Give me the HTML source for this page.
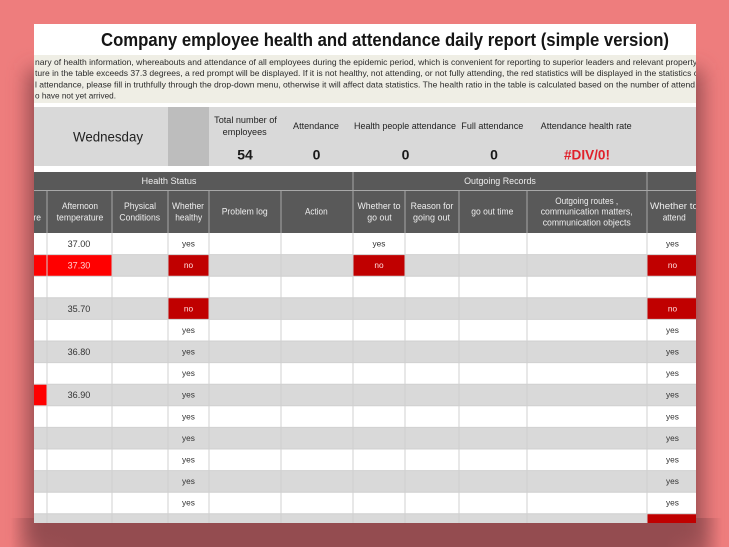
<!DOCTYPE html>
<html><head><meta charset="utf-8"><style>
html,body{margin:0;padding:0;background:#ee7d7d;width:729px;height:547px;overflow:hidden;}
svg{display:block;}
text{font-family:"Liberation Sans",Arial,sans-serif;}
</style></head><body>
<svg width="729" height="547" viewBox="0 0 729 547" xmlns="http://www.w3.org/2000/svg">
<defs>
<filter id="bl" x="-10%" y="-10%" width="120%" height="120%"><feGaussianBlur stdDeviation="10"/></filter>
<clipPath id="sc"><rect x="34" y="24" width="662" height="499"/></clipPath>
<clipPath id="vp"><rect x="0" y="0" width="729" height="547"/></clipPath>
<linearGradient id="bg" x1="0" y1="0" x2="1" y2="0">
<stop offset="0" stop-color="#944c50" stop-opacity="0"/>
<stop offset="0.05" stop-color="#944c50" stop-opacity="0.85"/>
<stop offset="0.1" stop-color="#944c50" stop-opacity="1"/>
<stop offset="0.92" stop-color="#944c50" stop-opacity="1"/>
<stop offset="0.97" stop-color="#944c50" stop-opacity="0.6"/>
<stop offset="1" stop-color="#944c50" stop-opacity="0"/>
</linearGradient>
</defs>
<rect width="729" height="547" fill="#ee7d7d"/>
<g clip-path="url(#vp)">
<rect x="28" y="70" width="674" height="477" fill="#944c50" filter="url(#bl)"/>
<rect x="10" y="518" width="712" height="29" fill="url(#bg)"/>
</g>
<g clip-path="url(#sc)">
<rect x="34" y="24" width="662" height="499" fill="#ffffff"/>
<text x="101" y="46.2" font-size="18" font-weight="bold" fill="#151515" textLength="568" lengthAdjust="spacingAndGlyphs">Company employee health and attendance daily report (simple version)</text>
<rect x="34" y="55" width="662" height="48" fill="#efeee5"/>
<g font-size="8.3" fill="#2a2a2a">
<text x="35" y="65" textLength="662" lengthAdjust="spacingAndGlyphs">nary of health information, whereabouts and attendance of all employees during the epidemic period, which is convenient for reporting to superior leaders and relevant property</text>
<text x="35" y="76" textLength="663" lengthAdjust="spacingAndGlyphs">ture in the table exceeds 37.3 degrees, a red prompt will be displayed. If it is not healthy, not attending, or not fully attending, the red statistics will be displayed in the statistics c</text>
<text x="35" y="87.3" textLength="660" lengthAdjust="spacingAndGlyphs">l attendance, please fill in truthfully through the drop-down menu, otherwise it will affect data statistics. The health ratio in the table is calculated based on the number of attend</text>
<text x="35" y="98.5" textLength="81" lengthAdjust="spacingAndGlyphs">o have not yet arrived.</text>
</g>
<rect x="34" y="107" width="662" height="59" fill="#d9d9d9"/>
<rect x="168" y="107" width="41" height="59" fill="#bdbdbd"/>
<text x="108" y="141.5" font-size="13.5" fill="#222" text-anchor="middle" textLength="70" lengthAdjust="spacingAndGlyphs">Wednesday</text>
<g font-size="9" fill="#222" text-anchor="middle">
<text x="245.5" y="123" textLength="62.7" lengthAdjust="spacingAndGlyphs">Total number of</text>
<text x="244.7" y="135" textLength="44" lengthAdjust="spacingAndGlyphs">employees</text>
<text x="316" y="129" textLength="46" lengthAdjust="spacingAndGlyphs">Attendance</text>
<text x="405" y="129" textLength="102" lengthAdjust="spacingAndGlyphs">Health people attendance</text>
<text x="492.3" y="129" textLength="62" lengthAdjust="spacingAndGlyphs">Full attendance</text>
<text x="586.2" y="129" textLength="91" lengthAdjust="spacingAndGlyphs">Attendance health rate</text>
</g>
<g font-size="14" font-weight="bold" fill="#1a1a1a" text-anchor="middle">
<text x="245" y="159.5">54</text>
<text x="316.5" y="159.5">0</text>
<text x="405.5" y="159.5">0</text>
<text x="494" y="159.5">0</text>
<text x="587" y="159.5" fill="#e0202a" textLength="46" lengthAdjust="spacingAndGlyphs">#DIV/0!</text>
</g>
<rect x="34" y="172" width="662" height="61" fill="#595959"/>
<g stroke="#a8a8a8" stroke-width="1">
<line x1="34" y1="190.5" x2="696" y2="190.5"/>
<line x1="353" y1="172" x2="353" y2="233"/>
<line x1="647" y1="172" x2="647" y2="233"/>
<line x1="47" y1="190" x2="47" y2="233"/>
<line x1="112" y1="190" x2="112" y2="233"/>
<line x1="168" y1="190" x2="168" y2="233"/>
<line x1="209" y1="190" x2="209" y2="233"/>
<line x1="281" y1="190" x2="281" y2="233"/>
<line x1="405" y1="190" x2="405" y2="233"/>
<line x1="459" y1="190" x2="459" y2="233"/>
<line x1="527" y1="190" x2="527" y2="233"/>
</g>
<g font-size="9" fill="#eeeeee" text-anchor="middle">
<text x="169" y="184" textLength="55" lengthAdjust="spacingAndGlyphs">Health Status</text>
<text x="500" y="184" textLength="71.7" lengthAdjust="spacingAndGlyphs">Outgoing Records</text>
<text x="18" y="220.5" textLength="46" lengthAdjust="spacingAndGlyphs">temperature</text>
<text x="80" y="209" textLength="36" lengthAdjust="spacingAndGlyphs">Afternoon</text>
<text x="80" y="220.5" textLength="46.7" lengthAdjust="spacingAndGlyphs">temperature</text>
<text x="140" y="209" textLength="32" lengthAdjust="spacingAndGlyphs">Physical</text>
<text x="139.7" y="220.5" textLength="40.7" lengthAdjust="spacingAndGlyphs">Conditions</text>
<text x="188" y="209" textLength="32" lengthAdjust="spacingAndGlyphs">Whether</text>
<text x="188.7" y="220.5" textLength="27" lengthAdjust="spacingAndGlyphs">healthy</text>
<text x="244.7" y="214.7" textLength="46" lengthAdjust="spacingAndGlyphs">Problem log</text>
<text x="316.3" y="214.7" textLength="22.7" lengthAdjust="spacingAndGlyphs">Action</text>
<text x="379" y="209" textLength="43" lengthAdjust="spacingAndGlyphs">Whether to</text>
<text x="379.5" y="220.5" textLength="24.4" lengthAdjust="spacingAndGlyphs">go out</text>
<text x="432" y="209" textLength="42.7" lengthAdjust="spacingAndGlyphs">Reason for</text>
<text x="431.5" y="220.5" textLength="37" lengthAdjust="spacingAndGlyphs">going out</text>
<text x="492.3" y="214.7" textLength="42" lengthAdjust="spacingAndGlyphs">go out time</text>
<text x="586.7" y="204" textLength="63" lengthAdjust="spacingAndGlyphs">Outgoing routes ,</text>
<text x="586.7" y="214.7" textLength="92" lengthAdjust="spacingAndGlyphs">communication matters,</text>
<text x="586.7" y="225.7" textLength="88" lengthAdjust="spacingAndGlyphs">communication objects</text>
<text x="674" y="209" textLength="48" lengthAdjust="spacingAndGlyphs">Whether  to</text>
<text x="674.2" y="220.5" textLength="23" lengthAdjust="spacingAndGlyphs">attend</text>
</g>
<rect x="34" y="233" width="662" height="290" fill="#ffffff"/>
<rect x="34" y="254.6" width="662" height="21.6" fill="#d9d9d9"/>
<rect x="34" y="297.8" width="662" height="21.6" fill="#d9d9d9"/>
<rect x="34" y="341" width="662" height="21.6" fill="#d9d9d9"/>
<rect x="34" y="384.2" width="662" height="21.6" fill="#d9d9d9"/>
<rect x="34" y="427.4" width="662" height="21.6" fill="#d9d9d9"/>
<rect x="34" y="470.6" width="662" height="21.6" fill="#d9d9d9"/>
<rect x="34" y="513.8" width="662" height="10" fill="#d9d9d9"/>
<rect x="34" y="254.6" width="78" height="21.6" fill="#ff0000"/>
<rect x="168" y="254.6" width="41" height="21.6" fill="#c00000"/>
<rect x="353" y="254.6" width="52" height="21.6" fill="#c00000"/>
<rect x="647" y="254.6" width="49" height="21.6" fill="#c00000"/>
<rect x="168" y="297.8" width="41" height="21.6" fill="#c00000"/>
<rect x="647" y="297.8" width="49" height="21.6" fill="#c00000"/>
<rect x="34" y="384.2" width="13" height="21.6" fill="#ff0000"/>
<rect x="647" y="513.8" width="49" height="10" fill="#c00000"/>
<g stroke="#d0d0d0" stroke-width="1">
<line x1="34" y1="254.6" x2="696" y2="254.6"/>
<line x1="34" y1="276.2" x2="696" y2="276.2"/>
<line x1="34" y1="297.8" x2="696" y2="297.8"/>
<line x1="34" y1="319.4" x2="696" y2="319.4"/>
<line x1="34" y1="341" x2="696" y2="341"/>
<line x1="34" y1="362.6" x2="696" y2="362.6"/>
<line x1="34" y1="384.2" x2="696" y2="384.2"/>
<line x1="34" y1="405.8" x2="696" y2="405.8"/>
<line x1="34" y1="427.4" x2="696" y2="427.4"/>
<line x1="34" y1="449" x2="696" y2="449"/>
<line x1="34" y1="470.6" x2="696" y2="470.6"/>
<line x1="34" y1="492.2" x2="696" y2="492.2"/>
<line x1="34" y1="513.8" x2="696" y2="513.8"/>
<line x1="47" y1="233" x2="47" y2="523"/>
<line x1="112" y1="233" x2="112" y2="523"/>
<line x1="168" y1="233" x2="168" y2="523"/>
<line x1="209" y1="233" x2="209" y2="523"/>
<line x1="281" y1="233" x2="281" y2="523"/>
<line x1="353" y1="233" x2="353" y2="523"/>
<line x1="405" y1="233" x2="405" y2="523"/>
<line x1="459" y1="233" x2="459" y2="523"/>
<line x1="527" y1="233" x2="527" y2="523"/>
<line x1="647" y1="233" x2="647" y2="523"/>
</g>
<g font-size="9" fill="#333" text-anchor="middle">
<text x="79" y="247" textLength="22.7" lengthAdjust="spacingAndGlyphs">37.00</text>
<text x="79" y="268.6" fill="#ffd0d0" textLength="22.7" lengthAdjust="spacingAndGlyphs">37.30</text>
<text x="79" y="311.8" textLength="22.7" lengthAdjust="spacingAndGlyphs">35.70</text>
<text x="79" y="355" textLength="22.7" lengthAdjust="spacingAndGlyphs">36.80</text>
<text x="79" y="398.2" textLength="22.7" lengthAdjust="spacingAndGlyphs">36.90</text>
</g>
<g font-size="8.3" fill="#333" text-anchor="middle">
<text x="188.5" y="246.5">yes</text>
<text x="188.5" y="268.1" fill="#ffdcdc">no</text>
<text x="188.5" y="311.3" fill="#ffdcdc">no</text>
<text x="188.5" y="332.9">yes</text>
<text x="188.5" y="354.5">yes</text>
<text x="188.5" y="376.1">yes</text>
<text x="188.5" y="397.7">yes</text>
<text x="188.5" y="419.3">yes</text>
<text x="188.5" y="440.9">yes</text>
<text x="188.5" y="462.5">yes</text>
<text x="188.5" y="484.1">yes</text>
<text x="188.5" y="505.7">yes</text>
<text x="379" y="246.5">yes</text>
<text x="379" y="268.1" fill="#ffdcdc">no</text>
<text x="672.5" y="246.5">yes</text>
<text x="672.5" y="268.1" fill="#ffdcdc">no</text>
<text x="672.5" y="311.3" fill="#ffdcdc">no</text>
<text x="672.5" y="332.9">yes</text>
<text x="672.5" y="354.5">yes</text>
<text x="672.5" y="376.1">yes</text>
<text x="672.5" y="397.7">yes</text>
<text x="672.5" y="419.3">yes</text>
<text x="672.5" y="440.9">yes</text>
<text x="672.5" y="462.5">yes</text>
<text x="672.5" y="484.1">yes</text>
<text x="672.5" y="505.7">yes</text>
</g>
</g>
</svg>
</body></html>
